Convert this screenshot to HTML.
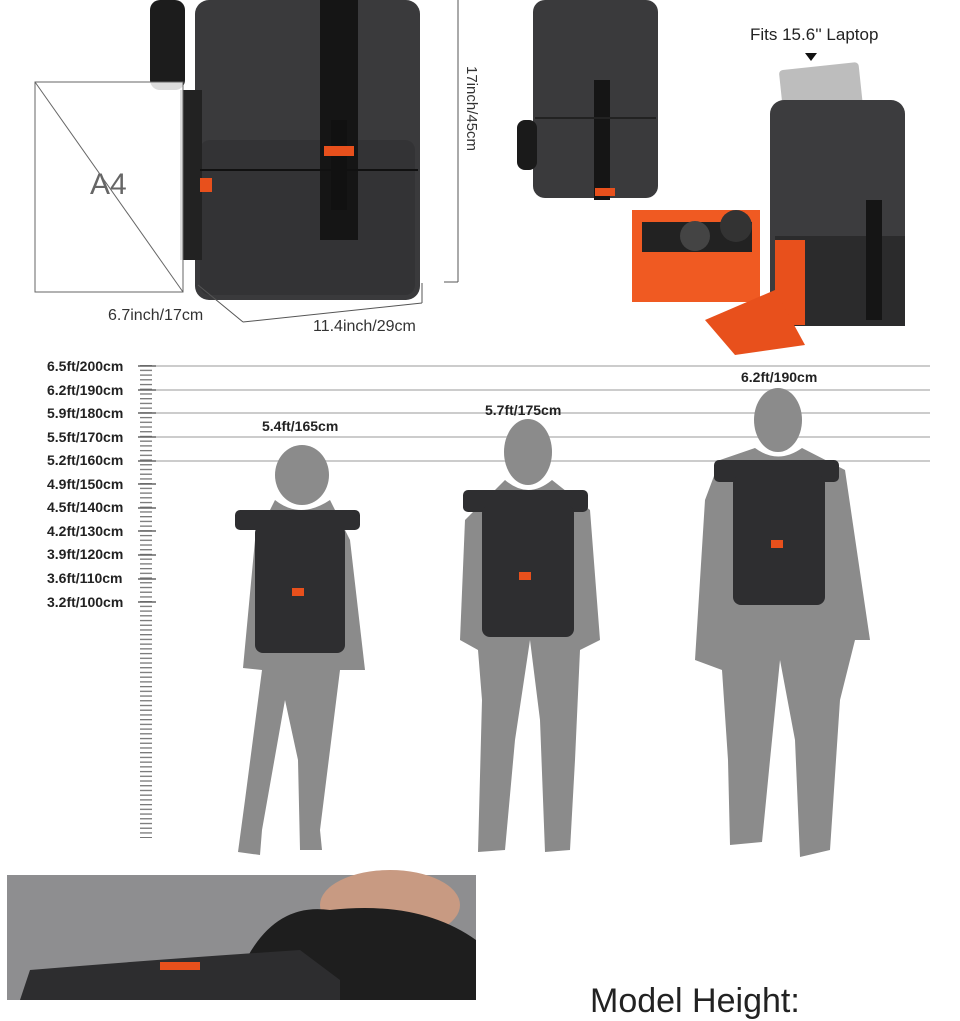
<!DOCTYPE html>
<html><head><meta charset="utf-8"><style>
html,body{margin:0;padding:0;background:#fff;}
body{width:960px;height:1000px;position:relative;overflow:hidden;font-family:"Liberation Sans",sans-serif;}
.t{position:absolute;white-space:nowrap;}
.lbl{font-weight:bold;font-size:14px;color:#222;}
</style></head><body>
<svg width="960" height="1000" style="position:absolute;left:0;top:0">
<defs>
<pattern id="tk" x="0" y="365" width="20" height="4.72" patternUnits="userSpaceOnUse">
<rect x="0" y="0" width="13" height="1.3" fill="#777"/>
</pattern>
</defs>
<!-- top backpack 1 -->
<rect x="150" y="0" width="35" height="90" rx="10" fill="#1c1c1c"/>
<rect x="195" y="0" width="225" height="300" rx="14" fill="#3a3a3c"/>
<rect x="200" y="140" width="215" height="155" rx="10" fill="#333335"/>
<rect x="180" y="90" width="22" height="170" fill="#222"/>
<rect x="320" y="0" width="38" height="240" fill="#151515"/>
<rect x="331" y="120" width="16" height="90" fill="#111"/>
<rect x="324" y="146" width="30" height="10" fill="#e8501c"/>
<rect x="200" y="178" width="12" height="14" fill="#e8501c"/>
<line x1="200" y1="170" x2="418" y2="170" stroke="#111" stroke-width="2"/>
<!-- A4 -->
<rect x="35" y="82" width="148" height="210" fill="#fff" fill-opacity="0.85" stroke="#666" stroke-width="1"/>
<line x1="35" y1="82" x2="183" y2="292" stroke="#666"/>
<line x1="35" y1="82" x2="183" y2="82" stroke="#666"/>
<!-- dims -->
<line x1="458" y1="0" x2="458" y2="282" stroke="#555"/>
<line x1="444" y1="282" x2="458" y2="282" stroke="#555"/>
<line x1="198" y1="285" x2="243" y2="322" stroke="#555"/>
<line x1="243" y1="322" x2="422" y2="303" stroke="#555"/>
<line x1="422" y1="283" x2="422" y2="303" stroke="#555"/>
<!-- backpack 2 -->
<rect x="533" y="0" width="125" height="198" rx="12" fill="#3a3a3c"/>
<rect x="517" y="120" width="20" height="50" rx="8" fill="#1a1a1a"/>
<rect x="594" y="80" width="16" height="120" fill="#151515"/>
<line x1="535" y1="118" x2="656" y2="118" stroke="#222" stroke-width="2"/>
<rect x="595" y="188" width="20" height="8" fill="#e8501c"/>
<!-- laptop text -->
<polygon points="805,53 817,53 811,61" fill="#111"/>
<!-- open backpack -->
<rect x="782" y="66" width="80" height="66" rx="4" fill="#bdbdbd" transform="rotate(-6 822 99)"/>
<rect x="770" y="100" width="135" height="225" rx="14" fill="#3c3c3e"/>
<rect x="775" y="236" width="130" height="90" fill="#2b2b2c"/>
<rect x="775" y="240" width="30" height="85" fill="#e8501c"/>
<rect x="866" y="200" width="16" height="120" fill="#151515"/>
<rect x="632" y="210" width="128" height="92" fill="#f05a22"/>
<rect x="642" y="222" width="110" height="30" fill="#222"/>
<circle cx="736" cy="226" r="16" fill="#333"/><circle cx="695" cy="236" r="15" fill="#444"/>
<polygon points="705,320 775,290 805,345 735,355" fill="#e8501c"/>
<!-- ruler -->
<rect x="138" y="365" width="14" height="473" fill="url(#tk)"/>
<g stroke="#666" stroke-width="1.5">
<line x1="138" y1="366" x2="156" y2="366"/><line x1="138" y1="390" x2="156" y2="390"/><line x1="138" y1="413" x2="156" y2="413"/><line x1="138" y1="437" x2="156" y2="437"/><line x1="138" y1="461" x2="156" y2="461"/><line x1="138" y1="484" x2="156" y2="484"/><line x1="138" y1="508" x2="156" y2="508"/><line x1="138" y1="531" x2="156" y2="531"/><line x1="138" y1="555" x2="156" y2="555"/><line x1="138" y1="579" x2="156" y2="579"/><line x1="138" y1="602" x2="156" y2="602"/>
</g>
<g stroke="#ccc" stroke-width="2">
<line x1="156" y1="366" x2="930" y2="366"/><line x1="156" y1="390" x2="930" y2="390"/><line x1="156" y1="413" x2="930" y2="413"/><line x1="156" y1="437" x2="930" y2="437"/><line x1="156" y1="461" x2="930" y2="461"/>
</g>
<!-- silhouettes -->
<g fill="#8b8b8b">
<ellipse cx="302" cy="475" rx="27" ry="30"/>
<path d="M275 500 Q300 520 330 500 L350 540 L365 670 L340 670 L320 830 L322 850 L300 850 L298 760 L285 700 L262 830 L260 855 L238 852 L245 800 L262 670 L243 668 L255 540 Z"/>
<ellipse cx="528" cy="452" rx="24" ry="33"/>
<path d="M505 480 Q528 500 552 480 L590 510 L600 640 L580 650 L575 760 L570 850 L545 852 L540 720 L530 640 L515 740 L505 850 L478 852 L482 700 L478 650 L460 640 L465 520 Z"/>
<ellipse cx="778" cy="420" rx="24" ry="32"/>
<path d="M755 448 Q778 465 802 448 L845 470 L870 640 L855 640 L840 700 L830 850 L800 857 L795 740 L780 660 L770 760 L762 842 L730 845 L728 760 L722 670 L695 660 L705 500 L720 460 Z"/>
</g>
<!-- backpacks on models -->
<g fill="#2e2e30">
<rect x="235" y="510" width="125" height="20" rx="5"/><rect x="255" y="525" width="90" height="128" rx="8"/>
<rect x="463" y="490" width="125" height="22" rx="5"/><rect x="482" y="505" width="92" height="132" rx="8"/>
<rect x="714" y="460" width="125" height="22" rx="5"/><rect x="733" y="475" width="92" height="130" rx="8"/>
</g>
<g fill="#e8501c">
<rect x="292" y="588" width="12" height="8"/><rect x="519" y="572" width="12" height="8"/><rect x="771" y="540" width="12" height="8"/>
</g>
<!-- bottom photo -->
<rect x="7" y="875" width="469" height="125" fill="#8e8e90"/>
<ellipse cx="390" cy="905" rx="70" ry="35" fill="#c89a82"/>
<path d="M230 1000 Q260 900 330 910 Q420 900 476 940 L476 1000 Z" fill="#1e1e1e"/>
<path d="M20 1000 L30 970 Q150 960 300 950 L340 980 L340 1000 Z" fill="#2d2d2f"/>
<rect x="160" y="962" width="40" height="8" fill="#e8501c"/>
</svg>
<div class="t" style="left:90px;top:168px;font-size:30px;color:#666;">A4</div>
<div class="t" style="left:460px;top:66px;font-size:15px;color:#333;transform-origin:0 0;transform:rotate(90deg) translate(0,-20px);">17inch/45cm</div>
<div class="t" style="left:108px;top:307px;font-size:16px;color:#333;">6.7inch/17cm</div>
<div class="t" style="left:313px;top:318px;font-size:16px;color:#333;">11.4inch/29cm</div>
<div class="t" style="left:750px;top:25px;font-size:17px;color:#222;">Fits 15.6'' Laptop</div>
<div class="t lbl" style="left:47px;top:358px;">6.5ft/200cm</div>
<div class="t lbl" style="left:47px;top:382px;">6.2ft/190cm</div>
<div class="t lbl" style="left:47px;top:405px;">5.9ft/180cm</div>
<div class="t lbl" style="left:47px;top:429px;">5.5ft/170cm</div>
<div class="t lbl" style="left:47px;top:452px;">5.2ft/160cm</div>
<div class="t lbl" style="left:47px;top:476px;">4.9ft/150cm</div>
<div class="t lbl" style="left:47px;top:499px;">4.5ft/140cm</div>
<div class="t lbl" style="left:47px;top:523px;">4.2ft/130cm</div>
<div class="t lbl" style="left:47px;top:546px;">3.9ft/120cm</div>
<div class="t lbl" style="left:47px;top:570px;">3.6ft/110cm</div>
<div class="t lbl" style="left:47px;top:594px;">3.2ft/100cm</div>
<div class="t lbl" style="left:262px;top:418px;">5.4ft/165cm</div>
<div class="t lbl" style="left:485px;top:402px;">5.7ft/175cm</div>
<div class="t lbl" style="left:741px;top:369px;">6.2ft/190cm</div>
<div class="t" style="left:590px;top:982px;font-size:34px;color:#222;">Model Height:</div>
</body></html>
